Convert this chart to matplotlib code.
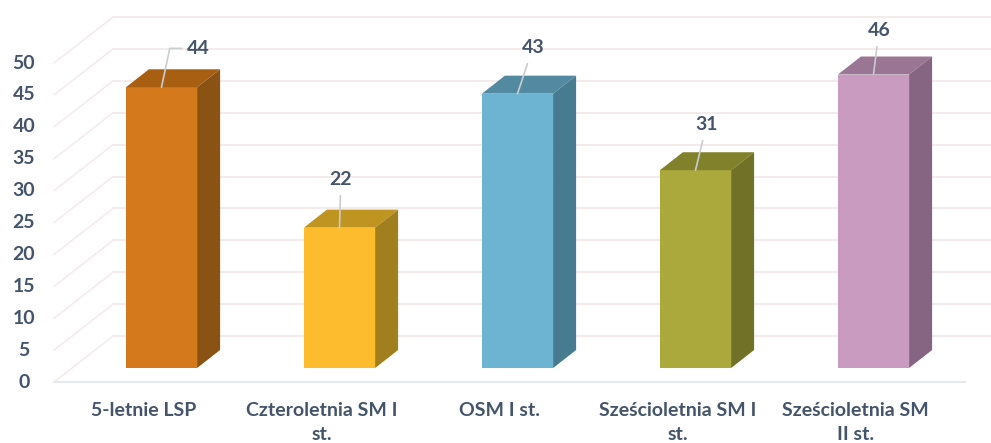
import matplotlib
matplotlib.use("Agg")
import matplotlib.pyplot as plt
from matplotlib.patches import Polygon

plt.rcParams['font.family'] = ['Lato', 'DejaVu Sans']

categories = ["5-letnie LSP", "Czteroletnia SM I\nst.", "OSM I st.",
              "Sześcioletnia SM I\nst.", "Sześcioletnia SM\nII st."]
values = [44, 22, 43, 31, 46]
ticks = [0, 5, 10, 15, 20, 25, 30, 35, 40, 45, 50]

front_colors = ['#D57A1C', '#FCBC2E', '#6DB4D2', '#ABA93C', '#C99BC0']
top_colors = ['#A85F12', '#C09420', '#538AA2', '#82812B', '#9A7594']
side_colors = ['#8A5213', '#A17F1E', '#467B90', '#717228', '#866582']

# offset of each data label from the top of its bar, in points
label_offsets = [(26.5, 28), (1, 35), (11, 33), (8, 33), (4, 32)]
# first leader has an elbow, the others are straight
leader_styles = ['angle,angleA=0,angleB=78,rad=0', 'arc3', 'arc3', 'arc3', 'arc3']

text_color = '#44546A'
grid_color = '#F3ECEA'

# one px scale: 178 px between bars, 6.38 px per unit
px_x = 178.0
px_y = 6.38
bar_half = 0.2
depth_x = 23 / px_x
depth_y = 18 / px_y
wall_y = 5.0      # back wall sits this far above the bar bases
floor_y = -2.2    # front edge of the floor
wall_x = (113 - 161.5) / px_x
floor_x = (54 - 161.5) / px_x

fig = plt.figure(figsize=(9.91, 4.43), dpi=100)
ax = fig.add_axes([0, 0, 1, 1])
ax.set_xlim(-161.5 / px_x, (991 - 161.5) / px_x)
ax.set_ylim(-75 / px_y, 368 / px_y)
ax.axis('off')

# back wall and side wall lines
for t in ticks:
    ax.plot([wall_x, 4.66], [t + wall_y, t + wall_y], color=grid_color, lw=1.5, zorder=1)
    ax.plot([floor_x, wall_x], [t + floor_y, t + wall_y], color=grid_color, lw=1.1, zorder=1)
    ax.text(-137.5 / px_x, t + floor_y, str(t), ha='center', va='center', fontsize=14,
            fontweight='bold', color=text_color)
ax.plot([floor_x, (965 - 161.5) / px_x], [floor_y, floor_y], color='#E6E8F0', lw=1.5, zorder=1)

# bars
for i, v in enumerate(values):
    l = i - bar_half
    r = i + bar_half
    ax.add_patch(Polygon([(l, 0), (r, 0), (r, v), (l, v)], color=front_colors[i], lw=0, zorder=3))
    ax.add_patch(Polygon([(l, v), (r, v), (r + depth_x, v + depth_y), (l + depth_x, v + depth_y)],
                         color=top_colors[i], lw=0, zorder=3))
    ax.add_patch(Polygon([(r, 0), (r + depth_x, depth_y), (r + depth_x, v + depth_y), (r, v)],
                         color=side_colors[i], lw=0, zorder=3))

    # data label with leader line
    ax.annotate(str(v), xy=(i, v), xytext=label_offsets[i], textcoords='offset points',
                ha='center', va='center', fontsize=14, fontweight='bold', color=text_color, zorder=5,
                arrowprops=dict(arrowstyle='-', color='#C9CDD2', lw=1.2, shrinkA=12, shrinkB=0,
                                patchA=None, relpos=(0.5, 0.5), connectionstyle=leader_styles[i]))

    ax.text(i - 18 / px_x, -34 / px_y, categories[i], ha='center', va='top', fontsize=14,
            fontweight='bold', color=text_color, linespacing=1.5)

fig.savefig('out.png', dpi=100)
